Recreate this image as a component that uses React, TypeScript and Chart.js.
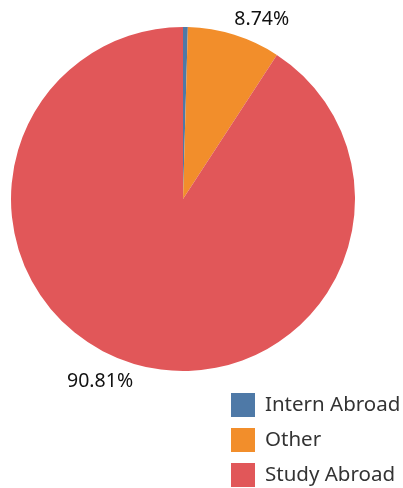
import React, { useEffect, useRef } from "react";
import { Chart, registerables } from "chart.js";

Chart.register(...registerables);

const categories = ["Intern Abroad", "Other", "Study Abroad"];
const values = [0.45, 8.74, 90.81];
const valueLabels = ["", "8.74%", "90.81%"];
const colors = ["#4e79a7", "#f28e2b", "#e15759"];
// label angle (deg, clockwise from top) and distance beyond the rim
const labelAngles = [0, 23.7, 204.5];
const labelGaps = [0, 24, 28];

const FONT = "'Noto Sans', sans-serif";

const overlayPlugin = {
  id: "overlay",
  afterDraw(chart: any) {
    const ctx = chart.ctx;
    const meta = chart.getDatasetMeta(0);
    ctx.save();
    // value labels
    meta.data.forEach((arc: any, i: number) => {
      const txt = valueLabels[i];
      if (!txt) return;
      const a = (labelAngles[i] * Math.PI) / 180;
      const r = arc.outerRadius + labelGaps[i];
      const x = arc.x + r * Math.sin(a);
      const y = arc.y - r * Math.cos(a);
      ctx.fillStyle = "#111";
      ctx.font = `19.5px ${FONT}`;
      ctx.textAlign = "center";
      ctx.textBaseline = "middle";
      ctx.fillText(txt, x, y);
    });
    // legend
    const lx = 231;
    const ly0 = 405;
    const step = 35;
    const sq = 24;
    categories.forEach((c, i) => {
      const cy = ly0 + i * step;
      ctx.fillStyle = colors[i];
      ctx.fillRect(lx, cy - sq / 2, sq, sq);
      ctx.fillStyle = "#333";
      ctx.font = `20.5px ${FONT}`;
      ctx.textAlign = "left";
      ctx.textBaseline = "middle";
      ctx.fillText(c, lx + 34, cy);
    });
    ctx.restore();
  },
};

export default function App() {
  const ref = useRef<HTMLCanvasElement>(null);
  useEffect(() => {
    document.body.style.margin = "0";
    const chart = new Chart(ref.current!, {
      type: "pie",
      data: {
        labels: categories,
        datasets: [
          {
            data: values,
            backgroundColor: colors,
            borderWidth: 0,
          },
        ],
      },
      options: {
        animation: false,
        responsive: false,
        maintainAspectRatio: false,
        layout: { padding: { left: 11, right: 48, top: 27, bottom: 117 } },
        plugins: { legend: { display: false }, tooltip: { enabled: false } },
      },
      plugins: [overlayPlugin],
    });
    return () => chart.destroy();
  }, []);
  return (
    <div style={{ width: 403, height: 488, background: "#fff" }}>
      <canvas ref={ref} width={403} height={488} />
    </div>
  );
}
